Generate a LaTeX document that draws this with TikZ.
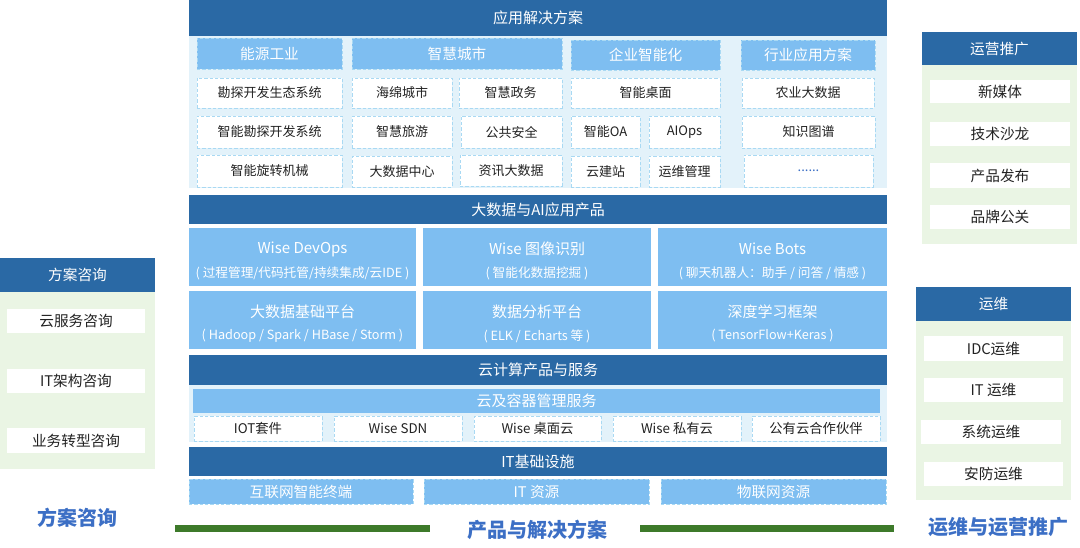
\documentclass[tikz,border=0pt]{standalone}
\usepackage{fontspec}
\setmainfont{Noto Sans CJK SC}
\definecolor{hdr}{HTML}{2A69A5}
\definecolor{lb}{HTML}{7EBEF1}
\definecolor{bgl}{HTML}{E3F2FA}
\definecolor{bgg}{HTML}{EAF5E4}
\definecolor{dsh}{HTML}{A9D9F3}
\definecolor{gline}{HTML}{3D7A2A}
\definecolor{ttl}{HTML}{3C6FC5}
\definecolor{txt}{HTML}{222222}
\newcommand\bx[7]{\node[#2, minimum width={(#5-#3)*0.75pt}, minimum height={(#6-#4)*0.75pt}] (#1) at ({(#3+#5)/2},{(#4+#6)/2}) {#7};}
\newcommand\fs[1]{\fontsize{#1}{#1}\selectfont}
\newcommand\prodtext[3]{%
  \node[prodtitle] (#1t) at ([yshift=8*0.75pt]#1.center) {#2};
  \node[prodsub] (#1s) at ([yshift=-16*0.75pt]#1.center) {#3};}
\tikzset{
  base/.style={inner sep=0pt, outer sep=0pt, align=center},
  hdrbox/.style={base, fill=hdr, text=white, font=\fs{11.25pt}},
  catbox/.style={base, fill=lb, draw=dsh, line width=0.6pt, dash pattern=on 2.5pt off 1.5pt, text=white, font=\fs{11pt}},
  itembox/.style={base, fill=white, draw=dsh, line width=0.6pt, dash pattern=on 2.5pt off 1.5pt, text=txt, font=\fs{9.75pt}},
  prodbox/.style={base, fill=lb, text=white, font=\fs{11.25pt}},
  prodtitle/.style={base, text=white, font=\fs{11.25pt}},
  prodsub/.style={base, text=white, font=\fs{9.5pt}},
  bgbox/.style={base, draw=none},
  sidebox/.style={base, fill=white, text=txt, font=\fs{11pt}},
  sidehdr/.style={base, fill=hdr, text=white, font=\fs{11pt}},
  bigtitle/.style={base, text=ttl, font=\fs{15pt}\bfseries},
  greenline/.style={draw=gline, line width=5pt}
}
\begin{document}
\begin{tikzpicture}[x=0.75pt,y=-0.75pt]
\useasboundingbox (0,0) rectangle (1080,547);
% backgrounds
\bx{bgA}{bgbox, fill=bgl}{189}{36}{887}{188}{}
\bx{bgB}{bgbox, fill=bgl}{189}{385}{887}{442}{}
\bx{bgL}{bgbox, fill=bgg}{0}{292}{155}{469}{}
\bx{bgR1}{bgbox, fill=bgg}{922}{65}{1077}{244}{}
\bx{bgR2}{bgbox, fill=bgg}{916}{321}{1071}{500}{}
% section 1
\bx{h1}{hdrbox}{189}{0}{887}{36}{应用解决方案}
\bx{c1}{catbox}{197}{38}{342}{69}{能源工业}
\bx{c2}{catbox}{352}{38}{562}{69}{智慧城市}
\bx{c3}{catbox}{571}{40}{720}{70}{企业智能化}
\bx{c4}{catbox}{741}{40}{875}{70}{行业应用方案}
\bx{i11}{itembox}{197}{78}{342}{108}{勘探开发生态系统}
\bx{i12}{itembox}{352}{78}{452}{108}{海绵城市}
\bx{i13}{itembox}{459}{78}{562}{108}{智慧政务}
\bx{i14}{itembox}{571}{78}{720}{108}{智能桌面}
\bx{i15}{itembox}{742}{78}{874}{108}{农业大数据}
\bx{i21}{itembox}{197}{116}{342}{148}{智能勘探开发系统}
\bx{i22}{itembox}{352}{116}{452}{148}{智慧旅游}
\bx{i23}{itembox}{461}{116}{562}{148}{公共安全}
\bx{i24}{itembox}{571}{116}{640}{148}{智能OA}
\bx{i25}{itembox}{649}{116}{720}{148}{AIOps}
\bx{i26}{itembox}{742}{116}{875}{148}{知识图谱}
\bx{i31}{itembox}{197}{155}{342}{187}{智能旋转机械}
\bx{i32}{itembox}{352}{156}{452}{187}{大数据中心}
\bx{i33}{itembox}{460}{155}{562}{186}{资讯大数据}
\bx{i34}{itembox}{571}{156}{640}{187}{云建站}
\bx{i35}{itembox}{649}{156}{720}{187}{运维管理}
\bx{i36}{itembox, text=ttl}{744}{155}{873}{187}{......}
% section 2
\bx{h2}{hdrbox}{189}{195}{887}{224}{大数据与AI应用产品}
\bx{p1}{prodbox}{189}{228}{416}{286}{}
\bx{p2}{prodbox}{423}{228}{651}{286}{}
\bx{p3}{prodbox}{658}{228}{887}{286}{}
\bx{p4}{prodbox}{189}{291}{416}{349}{}
\bx{p5}{prodbox}{423}{291}{651}{349}{}
\bx{p6}{prodbox}{658}{291}{887}{349}{}
\prodtext{p1}{Wise DevOps}{( 过程管理/代码托管/持续集成/云IDE )}
\prodtext{p2}{Wise 图像识别}{( 智能化数据挖掘 )}
\prodtext{p3}{Wise Bots}{( 聊天机器人：助手 / 问答 / 情感 )}
\prodtext{p4}{大数据基础平台}{( Hadoop / Spark / HBase / Storm )}
\prodtext{p5}{数据分析平台}{( ELK / Echarts 等 )}
\prodtext{p6}{深度学习框架}{( TensorFlow+Keras )}
% section 3
\bx{h3}{hdrbox}{189}{355}{887}{385}{云计算产品与服务}
\bx{s3}{prodbox}{193}{389}{880}{413}{云及容器管理服务}
\bx{k1}{itembox, font=\fs{10pt}}{194}{416}{322}{441}{IOT套件}
\bx{k2}{itembox, font=\fs{10pt}}{334}{416}{462}{441}{Wise SDN}
\bx{k3}{itembox, font=\fs{10pt}}{474}{416}{601}{441}{Wise 桌面云}
\bx{k4}{itembox, font=\fs{10pt}}{613}{416}{741}{441}{Wise 私有云}
\bx{k5}{itembox, font=\fs{10pt}}{752}{416}{880}{441}{公有云合作伙伴}
% section 4
\bx{h4}{hdrbox}{189}{447}{887}{476}{IT基础设施}
\bx{b1}{catbox}{189}{479}{413}{504}{互联网智能终端}
\bx{b2}{catbox}{424}{479}{649}{504}{IT 资源}
\bx{b3}{catbox}{661}{479}{886}{504}{物联网资源}
% left panel
\bx{lh}{sidehdr}{0}{258}{155}{292}{方案咨询}
\bx{l1}{sidebox}{7}{309}{145}{333}{云服务咨询}
\bx{l2}{sidebox}{7}{369}{145}{393}{IT架构咨询}
\bx{l3}{sidebox}{7}{428}{145}{453}{业务转型咨询}
% right top panel
\bx{rh1}{sidehdr}{922}{32}{1077}{65}{运营推广}
\bx{r11}{sidebox}{930}{80}{1070}{103}{新媒体}
\bx{r12}{sidebox}{930}{122}{1070}{146}{技术沙龙}
\bx{r13}{sidebox}{930}{163}{1070}{188}{产品发布}
\bx{r14}{sidebox}{930}{205}{1070}{229}{品牌公关}
% right bottom panel
\bx{rh2}{sidehdr}{916}{287}{1071}{321}{运维}
\bx{r21}{sidebox}{924}{336}{1063}{361}{IDC运维}
\bx{r22}{sidebox}{924}{378}{1063}{402}{IT 运维}
\bx{r23}{sidebox}{921}{420}{1061}{444}{系统运维}
\bx{r24}{sidebox}{924}{462}{1063}{486}{安防运维}
% bottom titles and lines
\coordinate (gl1a) at (175,528.5);
\coordinate (gl1b) at (430,528.5);
\coordinate (gl2a) at (640,528.5);
\coordinate (gl2b) at (894,528.5);
\draw[greenline] (gl1a) -- (gl1b);
\draw[greenline] (gl2a) -- (gl2b);
\node[bigtitle] (t1) at (77,518) {方案咨询};
\node[bigtitle] (t2) at (537,530) {产品与解决方案};
\node[bigtitle] (t3) at (998,527) {运维与运营推广};
\end{tikzpicture}
\end{document}
